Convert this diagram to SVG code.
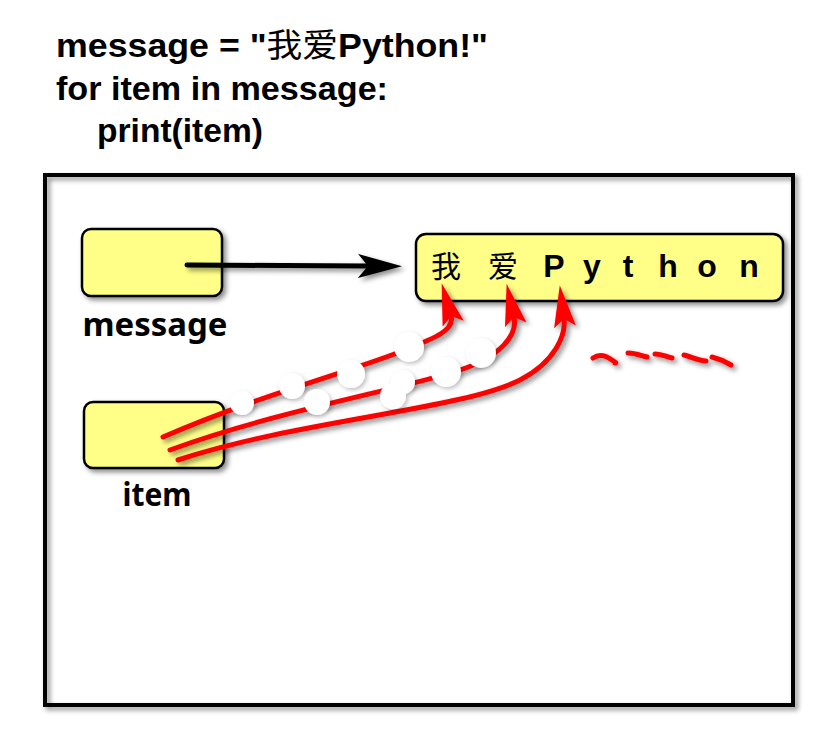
<svg xmlns="http://www.w3.org/2000/svg" width="830" height="737" viewBox="0 0 830 737">
  <style>
    .title { font-family: "Liberation Sans", Arial, sans-serif; font-weight: bold; font-size: 33px; fill: #000; }
    .cjk { font-family: "Noto Sans CJK SC", sans-serif; font-weight: normal; }
    .label { font-family: "Noto Sans", "Liberation Sans", sans-serif; font-weight: bold; font-size: 32px; fill: #000; text-anchor: middle; }
    .box { fill: #FFFF88; stroke: #000; stroke-width: 2.5; }
    .ch { font-family: "Liberation Sans", Arial, sans-serif; font-weight: bold; font-size: 32px; text-anchor: middle; fill: #000; }
    .chc { font-family: "Noto Sans CJK SC", sans-serif; font-size: 30px; text-anchor: middle; fill: #000; }
    .red { fill: none; stroke: #FF0000; stroke-width: 5; stroke-linecap: round; }
    .blob { fill: #FFFFFF; }
  </style>
  <defs>
    <filter id="sh" filterUnits="userSpaceOnUse" x="0" y="0" width="830" height="737">
      <feDropShadow dx="3" dy="3" stdDeviation="2.5" flood-color="#000" flood-opacity="0.45"/>
    </filter>
    <filter id="shs" filterUnits="userSpaceOnUse" x="0" y="0" width="830" height="737">
      <feDropShadow dx="2" dy="2" stdDeviation="2" flood-color="#000" flood-opacity="0.25"/>
    </filter>
    <marker id="ahBlack" markerUnits="userSpaceOnUse" markerWidth="46" markerHeight="26" refX="10" refY="12" orient="auto">
      <path d="M0,0 L44,12 L0,24 L10,12 z" fill="#000"/>
    </marker>
    <marker id="ahRed" markerUnits="userSpaceOnUse" markerWidth="44" markerHeight="24" refX="8" refY="11" orient="auto">
      <path d="M0,0 L42,11 L0,22 L8,11 z" fill="#FF0000"/>
    </marker>
  </defs>

  <rect width="830" height="737" fill="#FFFFFF"/>

  <g id="code">
    <text class="title" x="56" y="57" textLength="432" lengthAdjust="spacingAndGlyphs">message = "<tspan class="cjk">我爱</tspan>Python!"</text>
    <text class="title" x="56" y="100" textLength="332" lengthAdjust="spacingAndGlyphs">for item in message:</text>
    <text class="title" x="97" y="142" textLength="166" lengthAdjust="spacingAndGlyphs">print(item)</text>
  </g>

  <g id="frame">
    <rect x="45" y="175" width="748" height="530" fill="none" stroke="#000" stroke-width="4" filter="url(#sh)"/>
  </g>

  <g id="message">
    <rect class="box" x="82" y="229" width="140" height="67" rx="9" filter="url(#sh)"/>
    <text class="label" x="155" y="336" textLength="145" lengthAdjust="spacingAndGlyphs">message</text>
  </g>

  <g id="item">
    <rect class="box" x="84" y="402" width="140" height="66" rx="9" filter="url(#sh)"/>
    <text class="label" x="157" y="506" textLength="69" lengthAdjust="spacingAndGlyphs">item</text>
  </g>

  <g id="string">
    <rect class="box" x="416" y="234" width="367" height="67" rx="10" filter="url(#sh)"/>
    <text class="chc" x="446" y="277">我</text>
    <text class="chc" x="503" y="277">爱</text>
    <text class="ch" x="554" y="277">P</text>
    <text class="ch" x="592" y="277">y</text>
    <text class="ch" x="628" y="277">t</text>
    <text class="ch" x="668" y="277">h</text>
    <text class="ch" x="707" y="277">o</text>
    <text class="ch" x="749" y="277">n</text>
  </g>

  <g id="connectors">
    <g filter="url(#sh)">
      <path d="M187,265 L368,266" fill="none" stroke="#000" stroke-width="5" stroke-linecap="round" marker-end="url(#ahBlack)"/>
    </g>
    <g filter="url(#sh)">
      <path class="red" d="M163,437 C260,395 350,372 405,350 C435,338 455,330 451,316" marker-end="url(#ahRed)"/>
      <path class="red" d="M170,450 C280,410 400,390 460,370 C500,357 518,335 514,317" marker-end="url(#ahRed)"/>
      <path class="red" d="M178,460 C300,420 460,410 520,380 C555,362 566,335 564,319" marker-end="url(#ahRed)"/>
    </g>
    <g filter="url(#shs)">
      <circle class="blob" cx="242" cy="403" r="12"/>
      <circle class="blob" cx="292" cy="386" r="13"/>
      <circle class="blob" cx="317" cy="402" r="13"/>
      <circle class="blob" cx="351" cy="374" r="14"/>
      <circle class="blob" cx="393" cy="396" r="13"/>
      <circle class="blob" cx="403" cy="382" r="12"/>
      <circle class="blob" cx="409" cy="347" r="15"/>
      <circle class="blob" cx="446" cy="372" r="15"/>
      <circle class="blob" cx="481" cy="353" r="15"/>
    </g>
    <g filter="url(#sh)">
      <path class="red" d="M593,358 C600,353 606,356 612,360 C615,362 617,363 615,363"/>
      <path class="red" d="M628,353 C636,353 642,356 647,357"/>
      <path class="red" d="M655,354 C662,354 667,357 672,358"/>
      <path class="red" d="M684,355 C692,357 698,361 706,361"/>
      <path class="red" d="M712,357 C720,359 726,362 731,365"/>
    </g>
  </g>
</svg>
